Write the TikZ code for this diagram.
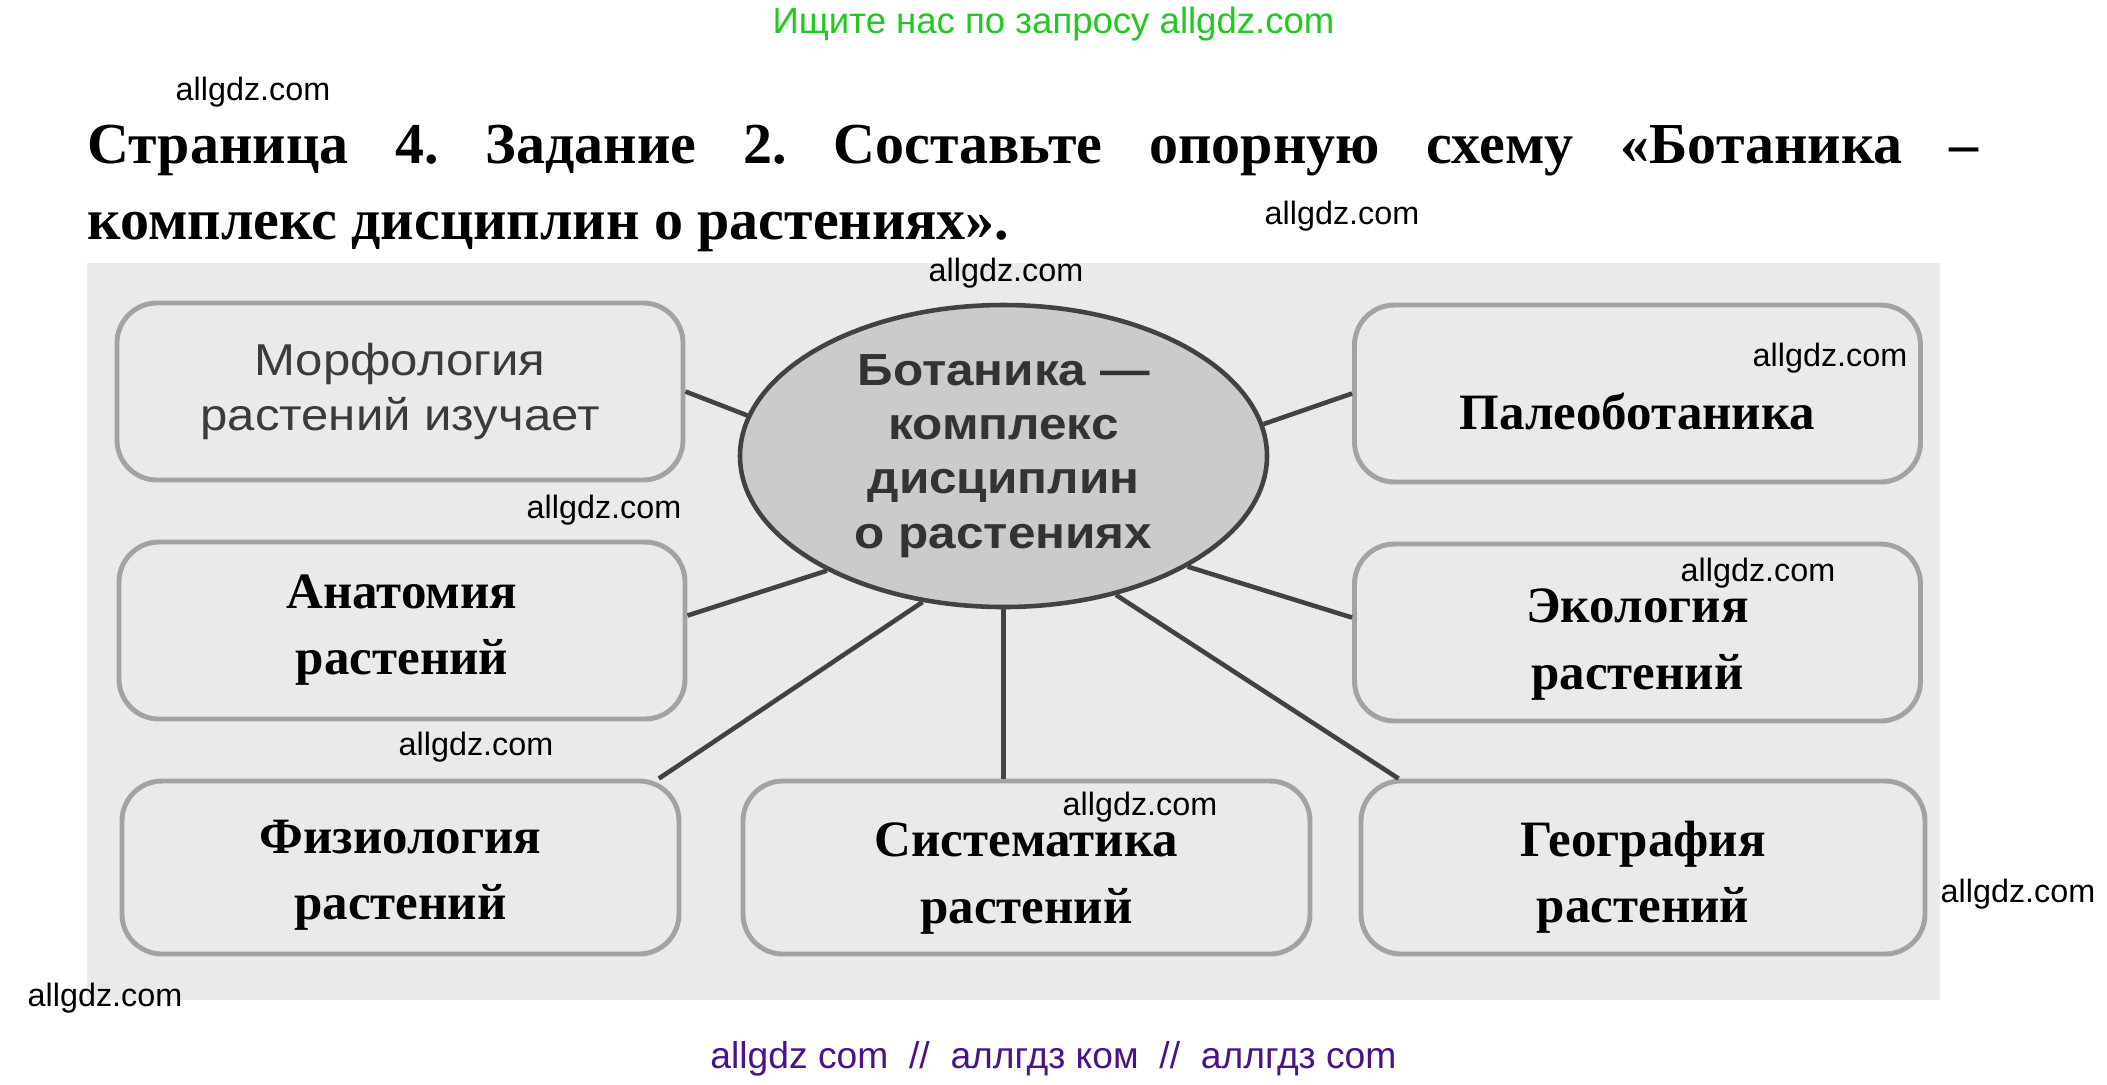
\documentclass[tikz,border=0pt]{standalone}
\usepackage{fontspec}
\setmainfont{Liberation Serif}
\setsansfont{Liberation Sans}
\newfontfamily\scanfont[FakeStretch=1.1]{Liberation Sans}
\usetikzlibrary{shapes.geometric}
\usepackage{xcolor}
\definecolor{wmgreen}{RGB}{32,200,32}
\definecolor{wmpurple}{RGB}{74,20,134}
\definecolor{scangray}{RGB}{234,234,234}
\definecolor{ovalgray}{RGB}{203,203,203}
\colorlet{inkgray}{black!74}
\tikzstyle{box}=[draw=gray!72,line width=1.4pt,rounded corners=0.4cm,inner sep=0pt]
\tikzstyle{tag}=[inner sep=0pt,align=center,font=\bfseries\fontsize{14.5}{18.8}\selectfont]
\tikzstyle{link}=[inkgray,line width=1.3pt]
\tikzstyle{wm}=[font=\sffamily\fontsize{9.2}{11}\selectfont,inner sep=0pt]
\def\bw{5.66cm}
\def\bh{1.77cm}
\def\sh{1.73cm}

\begin{document}
\frenchspacing
\begin{tikzpicture}
      % FRAME
      \useasboundingbox (0,0) rectangle (21.07,-10.84);
      \fill[scangray] (0.87,-2.63) rectangle (19.40,-10.00);

      % HEADER
      \node[font=\sffamily\fontsize{10.4}{12}\selectfont,text=wmgreen,anchor=base]
        (ask) at (10.535,-0.33) {Ищите нас по запросу allgdz.com};
      \node[anchor=base west,text width=18.91cm,align=justify,inner sep=0pt,
        font=\bfseries\fontsize{16.5}{21.9}\selectfont] (title) at (0.87,-1.63)
        {Страница 4. Задание 2. Составьте опорную схему «Ботаника –\linebreak
         комплекс дисциплин о растениях».};

      % SCHEME
      \node[ellipse,draw=inkgray,line width=1.3pt,fill=ovalgray,
        minimum width=5.27cm,minimum height=3.02cm,inner sep=0pt,align=center,
        text=black!80,font=\scanfont\bfseries\fontsize{12.8}{15.4}\selectfont]
        (bot) at (10.035,-4.56) {Ботаника —\\комплекс\\дисциплин\\о растениях};
      \node[box,minimum width=\bw,minimum height=\bh] (morph) at (4.00,-3.915) {};
      \node[box,minimum width=\bw,minimum height=\bh] (anat) at (4.02,-6.305) {};
      \node[box,minimum width=\bw,minimum height=\bh] (paleo) at (16.375,-3.935) {};
      \node[box,minimum width=\bw,minimum height=\bh] (eco) at (16.375,-6.325) {};
      \node[box,minimum width=5.57cm,minimum height=\sh] (phys) at (4.005,-8.675) {};
      \node[box,minimum width=5.67cm,minimum height=\sh] (sys) at (10.265,-8.675) {};
      \node[box,minimum width=5.64cm,minimum height=\sh] (geo) at (16.43,-8.675) {};

      % LABELS
      \node[inner sep=0pt,align=center,text=black!77,
        font=\scanfont\fontsize{12.7}{15.6}\selectfont]
        (morphT) at (morph) {Морфология\\растений изучает};
      \node[tag] (anatT) at (anat) {Анатомия\\растений};
      \node[tag,yshift=-0.175cm] (paleoT) at (paleo) {Палеоботаника};
      \node[tag,yshift=-0.12cm] (ecoT) at (eco) {Экология\\растений};
      \node[tag,yshift=-0.08cm] (physT) at (phys) {Физиология\\растений};
      \node[tag,yshift=-0.11cm] (sysT) at (sys) {Систематика\\растений};
      \node[tag,yshift=-0.10cm] (geoT) at (geo) {География\\растений};

      % LINKS
      \draw[link] (morph.east) -- (bot.171);
      \draw[link] (anat.3) -- (bot.213);
      \draw[link] (phys.19) -- (bot.241);
      \draw[link] (bot.south) -- (bot.south |- sys.north);
      \draw[link] (geo.160) -- (bot.309);
      \draw[link] (eco.177) -- (bot.329);
      \draw[link] (paleo.west) -- (bot.7);

      % WATERMARKS
      \foreach \x/\y [count=\i] in {2.53/-0.92,13.42/-2.16,10.06/-2.73,18.30/-3.58,
          6.04/-5.10,17.58/-5.73,4.76/-7.47,11.40/-8.07,20.18/-8.94,1.05/-9.98}
        \node[wm] (wm\i) at (\x,\y) {allgdz.com};
      \node[font=\sffamily\fontsize{10.6}{12}\selectfont,text=wmpurple,anchor=base]
        (mirror) at (10.535,-10.68) {allgdz com \ // \ аллгдз ком \ // \ аллгдз com};

    \end{tikzpicture}
\end{document}
